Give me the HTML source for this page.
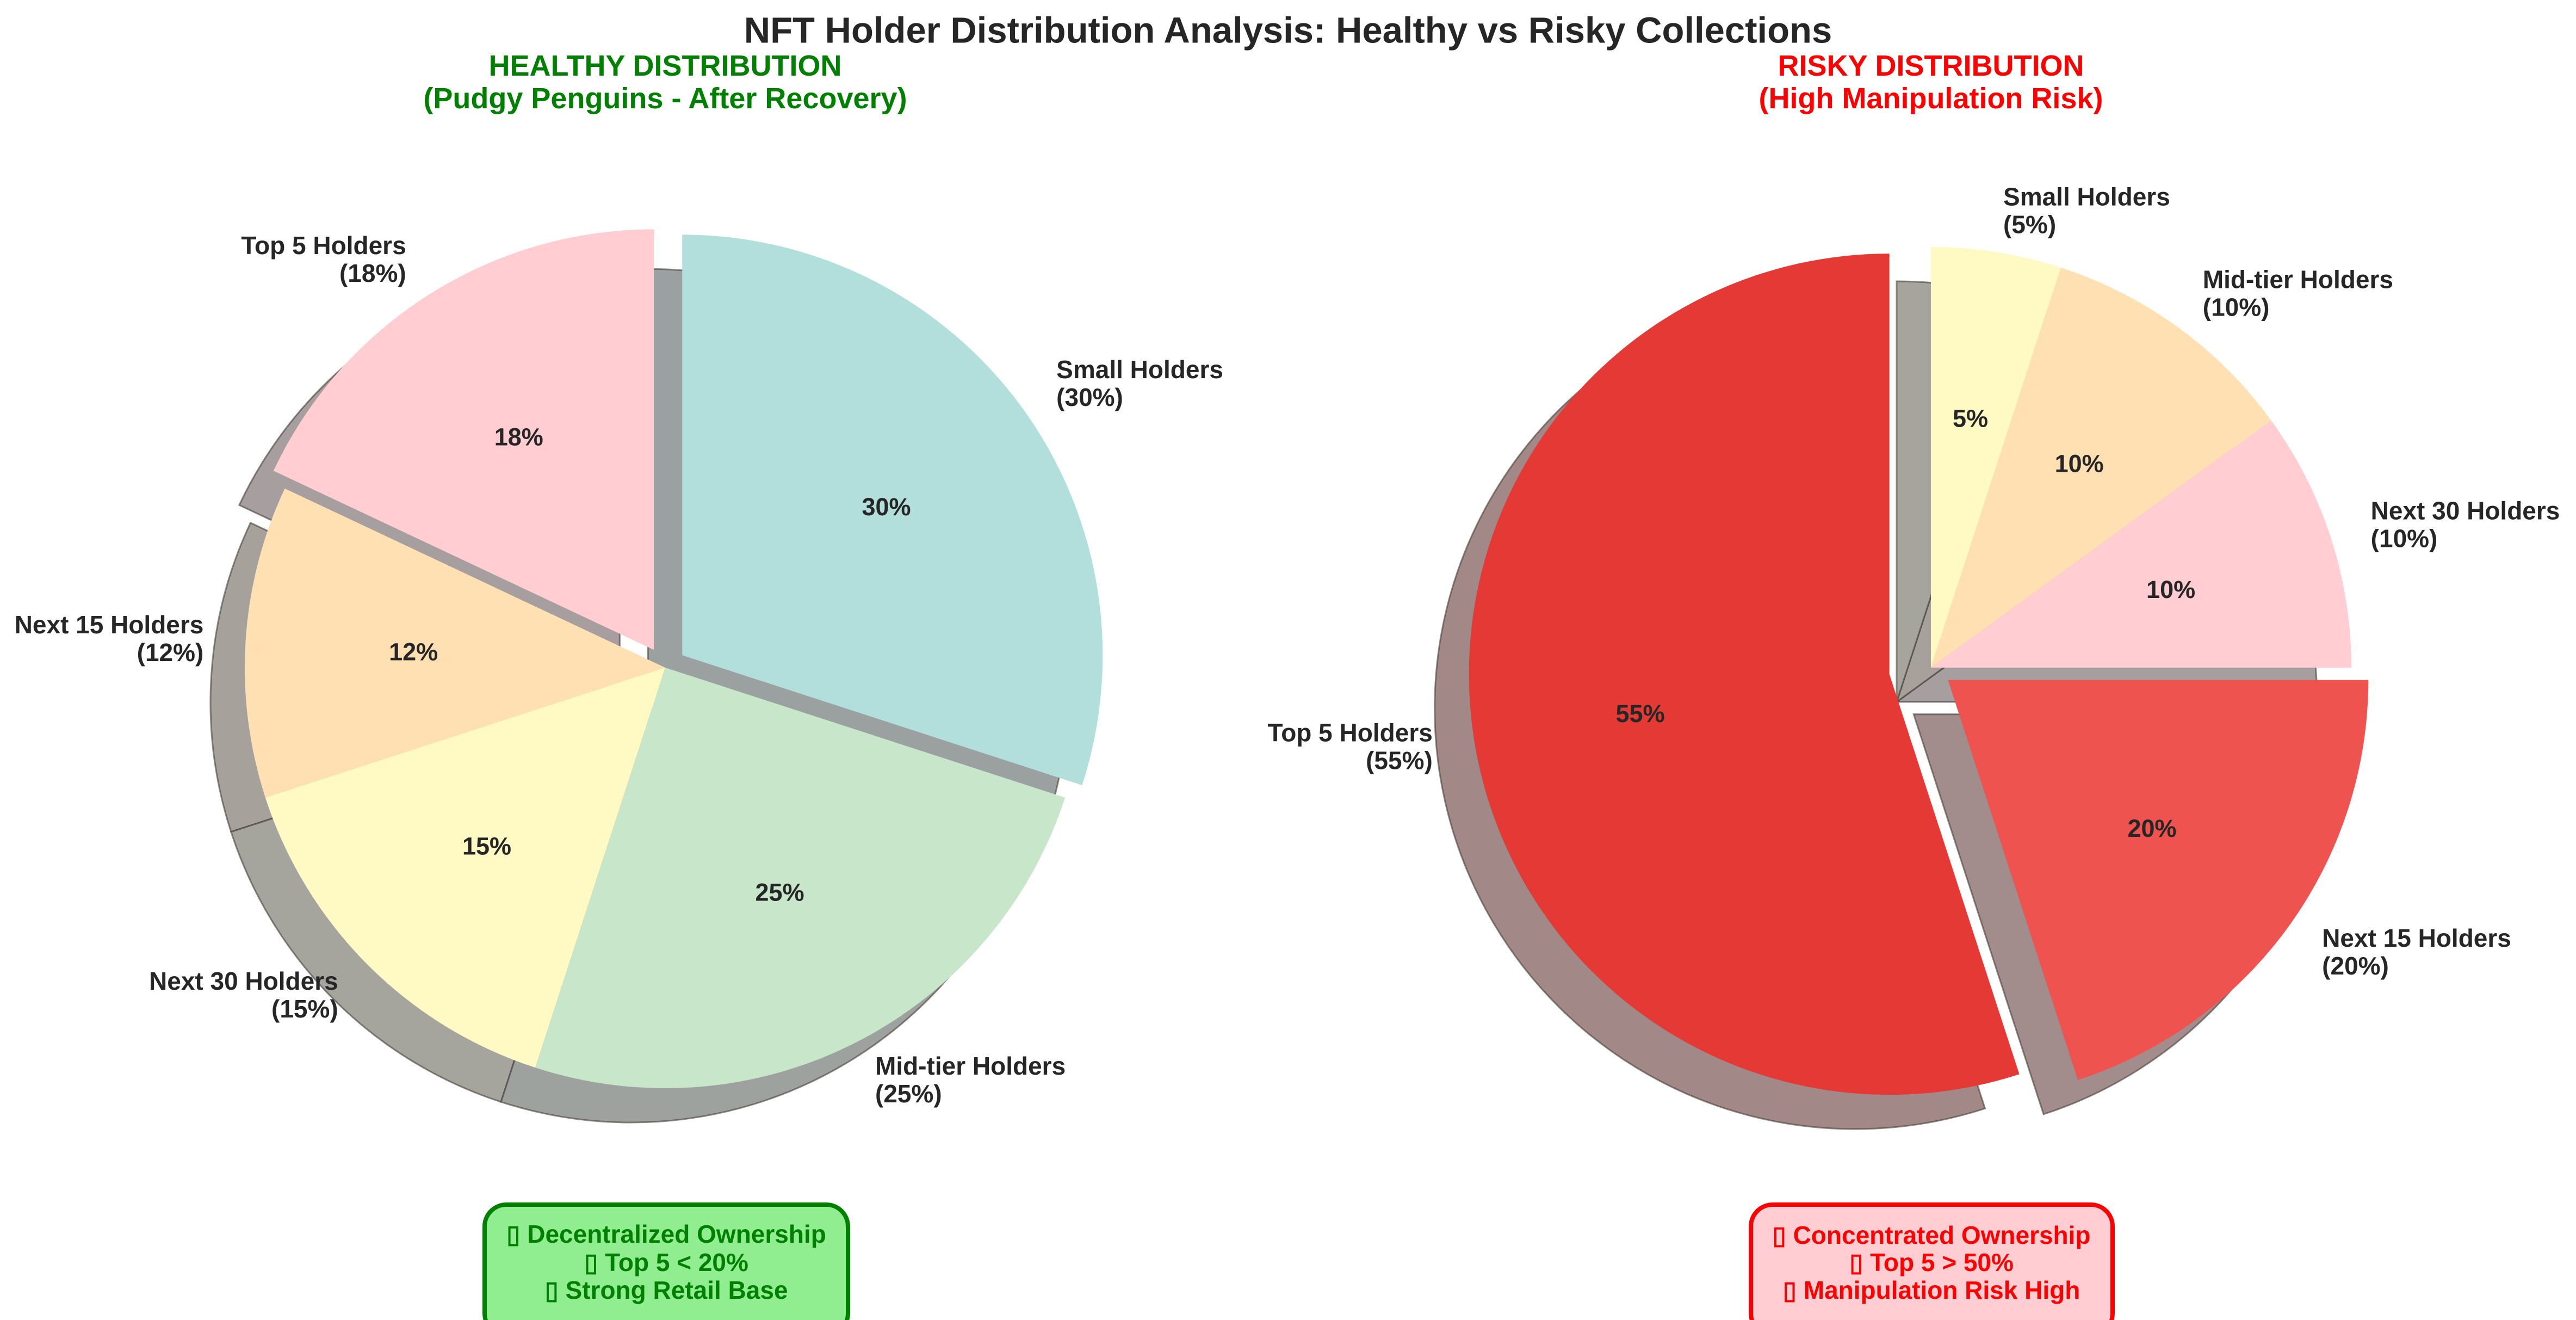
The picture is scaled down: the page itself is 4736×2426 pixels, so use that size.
<!DOCTYPE html>
<html><head><meta charset="utf-8"><style>
html,body{margin:0;padding:0;background:#fff;}
svg{display:block;font-family:"Liberation Sans",sans-serif;}
</style></head><body>
<svg id="fig" width="4736" height="2426" viewBox="0 0 4736 2426" xmlns="http://www.w3.org/2000/svg">
<rect x="0" y="0" width="4736" height="2426" fill="#fff"/>
<text x="2368" y="56" text-anchor="middle" dominant-baseline="central" font-size="67" font-weight="bold" fill="#262626">NFT Holder Distribution Analysis: Healthy vs Risky Collections</text>
<g font-size="54" font-weight="bold" fill="#008000" text-anchor="middle">
<text x="1223" y="121" dominant-baseline="central">HEALTHY DISTRIBUTION</text>
<text x="1223" y="181" dominant-baseline="central">(Pudgy Penguins - After Recovery)</text>
</g>
<g font-size="54" font-weight="bold" fill="#FF0000" text-anchor="middle">
<text x="3550" y="121" dominant-baseline="central">RISKY DISTRIBUTION</text>
<text x="3550" y="181" dominant-baseline="central">(High Manipulation Risk)</text>
</g>
<g id="pie-left"></g>
<g id="pie-right"></g>

<g>
<rect x="891" y="2214" width="668" height="240" rx="40" ry="40" fill="#90EE90" stroke="#008000" stroke-width="8"/>
<g font-size="46" font-weight="bold" fill="#008000" text-anchor="middle">
<text x="1225" y="2268" dominant-baseline="central">▯ Decentralized Ownership</text>
<text x="1225" y="2320" dominant-baseline="central">▯ Top 5 &lt; 20%</text>
<text x="1225" y="2371" dominant-baseline="central">▯ Strong Retail Base</text>
</g>
</g>
<g>
<rect x="3219" y="2214" width="665" height="240" rx="40" ry="40" fill="#FFCDD2" stroke="#FF0000" stroke-width="8"/>
<g font-size="46" font-weight="bold" fill="#FF0000" text-anchor="middle">
<text x="3551" y="2270" dominant-baseline="central">▯ Concentrated Ownership</text>
<text x="3551" y="2320" dominant-baseline="central">▯ Top 5 &gt; 50%</text>
<text x="3551" y="2371" dominant-baseline="central">▯ Manipulation Risk High</text>
</g>
</g>
</svg>
<script>
const categories = ["Top 5 Holders", "Next 15 Holders", "Next 30 Holders", "Mid-tier Holders", "Small Holders"];
const healthyValues = [18, 12, 15, 25, 30];
const riskyValues = [55, 20, 10, 10, 5];
const healthyExplode = [0.05, 0, 0, 0, 0.05];
const riskyExplode = [0.1, 0.05, 0, 0, 0];
const healthyColors = ["#FFCDD2", "#FFE0B2", "#FFF9C4", "#C8E6C9", "#B2DFDB"];
const riskyColors = ["#E53935", "#EF5350", "#FFCDD2", "#FFE0B2", "#FFF9C4"];

const NS = "http://www.w3.org/2000/svg";
function hexToRgb(h){return [parseInt(h.slice(1,3),16),parseInt(h.slice(3,5),16),parseInt(h.slice(5,7),16)];}
function shadowColor(h){const c=hexToRgb(h);return "rgb("+c.map(v=>Math.round(127.5+0.15*v)).join(",")+")";}
function wedgePath(cx,cy,r,a1,a2){
  const x1=cx+r*Math.cos(a1), y1=cy-r*Math.sin(a1);
  const x2=cx+r*Math.cos(a2), y2=cy-r*Math.sin(a2);
  const large=(a2-a1)>Math.PI?1:0;
  return "M"+cx+","+cy+" L"+x1+","+y1+" A"+r+","+r+" 0 "+large+" 0 "+x2+","+y2+" Z";
}
function drawPie(gid, prefix, values, explode, colors, cx, cy, r){
  const g=document.getElementById(gid);
  const total=values.reduce((a,b)=>a+b,0);
  const sg=document.createElementNS(NS,"g"), wg=document.createElementNS(NS,"g"), tg=document.createElementNS(NS,"g");
  g.appendChild(sg); g.appendChild(wg); g.appendChild(tg);
  let ang=Math.PI/2;
  const off=63;
  values.forEach((v,i)=>{
    const span=v/total*2*Math.PI;
    const a1=ang, a2=ang+span, mid=(a1+a2)/2;
    ang=a2;
    const ex=explode[i]*r;
    const wx=cx+ex*Math.cos(mid), wy=cy-ex*Math.sin(mid);
    const sh=document.createElementNS(NS,"path");
    sh.setAttribute("d",wedgePath(wx-off,wy+off,r,a1,a2));
    sh.setAttribute("fill",shadowColor(colors[i]));
    sh.setAttribute("stroke","rgba(70,60,55,0.6)");
    sh.setAttribute("stroke-width","3");
    
    
    sg.appendChild(sh);
    const w=document.createElementNS(NS,"path");
    w.setAttribute("d",wedgePath(wx,wy,r,a1,a2));
    w.setAttribute("fill",colors[i]);
    
    
    wg.appendChild(w);
    const pt=document.createElementNS(NS,"text");
    pt.setAttribute("x",wx+0.6*r*Math.cos(mid));
    pt.setAttribute("y",wy-0.6*r*Math.sin(mid));
    pt.setAttribute("text-anchor","middle");
    pt.setAttribute("dominant-baseline","central");
    pt.setAttribute("font-size","45");
    pt.setAttribute("font-weight","bold");
    pt.setAttribute("fill","#262626");
    pt.textContent=Math.round(v)+"%";
    
    
    tg.appendChild(pt);
    const lx=wx+1.1*r*Math.cos(mid), ly=wy-1.1*r*Math.sin(mid);
    const lt=document.createElementNS(NS,"text");
    lt.setAttribute("font-size","46");
    lt.setAttribute("font-weight","bold");
    lt.setAttribute("fill","#262626");
    lt.setAttribute("text-anchor", Math.cos(mid)<0?"end":"start");
    const lines=[categories[i],"("+v+"%)"];
    lines.forEach((t,k)=>{
      const ts=document.createElementNS(NS,"tspan");
      ts.setAttribute("x",lx);
      ts.setAttribute("y",ly+(k-0.5)*51);
      ts.setAttribute("dominant-baseline","central");
      ts.textContent=t;
      lt.appendChild(ts);
    });
    
    
    tg.appendChild(lt);
  });
}
drawPie("pie-left","healthy",healthyValues,healthyExplode,healthyColors,1223,1227,773);
drawPie("pie-right","risky",riskyValues,riskyExplode,riskyColors,3550,1227,773);
</script>
</body></html>
